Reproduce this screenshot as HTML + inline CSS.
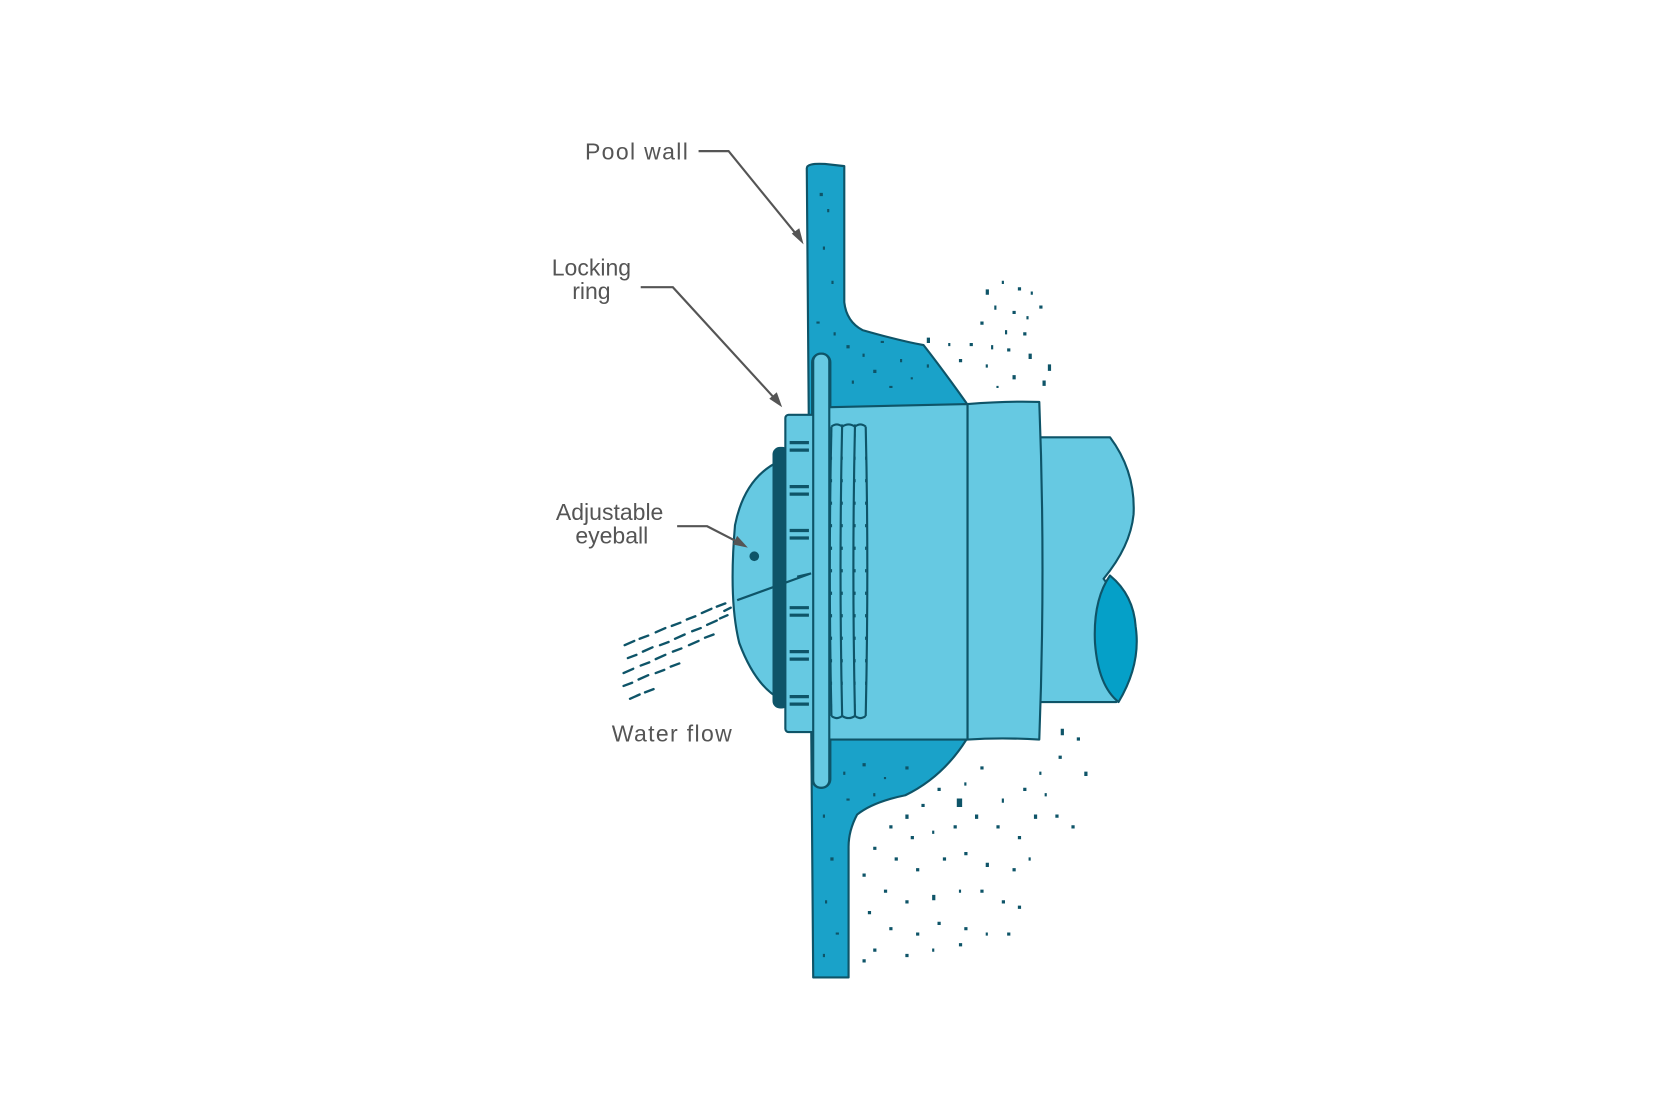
<!DOCTYPE html>
<html><head><meta charset="utf-8"><style>html,body{margin:0;padding:0;background:#fff;width:1680px;height:1120px;overflow:hidden}</style></head>
<body>
<svg width="1680" height="1120" viewBox="0 0 1568 1045" preserveAspectRatio="none" xmlns="http://www.w3.org/2000/svg">
<rect width="1568" height="1045" fill="#fff"/>
<g stroke="#0e5468" stroke-width="2" stroke-linejoin="round">
<path d="M753,157 Q753,152 770,153 L788,155 L788,282 Q790,300 805,308 Q840,318 862,322 Q880,345 902,376 L902,690 Q880,725 845,742 Q815,748 800,760 Q792,775 792,790 L792,912 L759,912 Z" fill="#1aa2c9"/>
<rect x="758" y="330" width="17" height="405" rx="8" fill="#66c9e2"/>
<path d="M970,408 L1036,408 Q1060,440 1058,480 Q1055,510 1030,540 Q1062,580 1042,655 L970,655 Z" fill="#66c9e2"/>
<path d="M1036,537 Q1020,560 1022,600 Q1025,640 1044,655 Q1065,620 1060,585 Q1058,555 1036,537 Z" fill="#05a0c8"/>
<path d="M903,377 Q940,374 970,375 Q976,530 970,690 Q935,688 903,690 Z" fill="#66c9e2"/>
<path d="M770,380 L903,377 L903,690 L770,690 Z" fill="#66c9e2"/>
<path d="M776,398 Q773,530 776,668 M786,396 Q783,530 786,668 M798,396 Q795,530 798,668 M808,398 Q811,530 808,668" fill="none"/>
<path d="M776,398 Q781,394 786,398 Q792,394 798,398 Q803,394 808,398 M776,668 Q781,672 786,668 Q792,672 798,668 Q803,672 808,668" fill="none"/>
<path d="M728,430 Q695,445 686,490 Q680,560 690,600 Q705,640 728,652 Z" fill="#66c9e2"/>
<rect x="722" y="418" width="14" height="242" rx="6" fill="#0e5468"/>
<rect x="733" y="387" width="30" height="296" rx="3" fill="#66c9e2"/>
<rect x="759" y="330" width="15" height="405" rx="7" fill="#66c9e2"/>
</g>
<g stroke="#0e5468" stroke-width="3">
<path d="M737,413h18M737,420h18M737,454h18M737,461h18M737,495h18M737,502h18M737,567h18M737,574h18M737,608h18M737,615h18M737,650h18M737,657h18"/>
</g>
<path d="M776,405v260M786,405v260M798,405v260M808,405v260" stroke="#0e5468" stroke-width="1.2" stroke-dasharray="3 18"/>
<path d="M688,560 L757,535 L744,538" stroke="#0e5468" stroke-width="2" fill="none"/>
<circle cx="704" cy="519" r="4.5" fill="#0e5468"/>
<g stroke="#0e5468" stroke-width="2.2" stroke-linecap="round">
<path d="M583,602l9,-4M597,596l8,-3M612,590l9,-4M627,584l8,-3M641,578l8,-3M655,572l9,-4M669,566l8,-3M586,614l8,-3M600,608l9,-4M616,602l8,-3M630,596l9,-4M646,589l8,-3M660,583l9,-4M672,577l7,-3M582,628l9,-4M598,621l8,-3M612,615l9,-4M628,608l8,-3M643,602l9,-4M658,595l8,-3M582,640l8,-3M596,634l9,-4M612,628l8,-3M626,622l8,-3M588,652l9,-4M602,646l8,-3M676,570l6,-3"/>
</g>
<g fill="#0e5468">
<path d="M765,180h3v3h-3zM772,195h2v3h-2zM768,230h2v3h-2zM776,262h2v3h-2zM762,300h3v2h-3zM778,310h2v3h-2zM790,322h3v3h-3zM805,330h2v3h-2zM822,318h3v2h-3zM840,335h2v3h-2zM815,345h3v3h-3zM850,352h2v2h-2zM795,355h2v3h-2zM830,360h3v2h-3zM865,340h2v3h-2zM787,720h2v3h-2zM805,712h3v3h-3zM825,725h2v2h-2zM845,715h3v3h-3zM815,740h2v3h-2zM790,745h3v2h-3zM768,760h2v3h-2zM775,800h3v3h-3zM770,840h2v3h-2zM780,870h3v2h-3zM768,890h2v3h-2z"/>
<path d="M920,270h3v5h-3zM935,262h2v3h-2zM950,268h3v3h-3zM962,272h2v3h-2zM928,285h2v4h-2zM945,290h3v3h-3zM958,295h2v3h-2zM970,285h3v3h-3zM915,300h3v3h-3zM938,308h2v4h-2zM955,310h3v3h-3zM905,320h3v3h-3zM925,322h2v4h-2zM940,325h3v3h-3zM960,330h3v5h-3zM978,340h3v6h-3zM865,315h3v5h-3zM885,320h2v3h-2zM895,335h3v3h-3zM920,340h2v3h-2zM945,350h3v4h-3zM973,355h3v5h-3zM930,360h2v2h-2z"/>
<path d="M990,680h3v6h-3zM1005,688h3v3h-3zM1012,720h3v4h-3zM988,705h3v3h-3zM970,720h2v3h-2zM955,735h3v3h-3zM935,745h2v4h-2zM915,715h3v3h-3zM900,730h2v3h-2zM893,745h5v8h-5zM875,735h3v3h-3zM860,750h3v3h-3zM845,760h3v4h-3zM830,770h3v3h-3zM850,780h3v3h-3zM870,775h2v3h-2zM890,770h3v3h-3zM910,760h3v4h-3zM930,770h3v3h-3zM950,780h3v3h-3zM965,760h3v4h-3zM985,760h3v3h-3zM1000,770h3v3h-3zM975,740h2v3h-2zM815,790h3v3h-3zM835,800h3v3h-3zM855,810h3v3h-3zM880,800h3v3h-3zM900,795h3v3h-3zM920,805h3v4h-3zM945,810h3v3h-3zM960,800h2v3h-2zM805,815h3v3h-3zM825,830h3v3h-3zM845,840h3v3h-3zM870,835h3v5h-3zM895,830h2v3h-2zM915,830h3v3h-3zM935,840h3v3h-3zM950,845h3v3h-3zM810,850h3v3h-3zM830,865h3v3h-3zM855,870h3v3h-3zM875,860h3v3h-3zM900,865h3v3h-3zM920,870h2v3h-2zM940,870h3v3h-3zM815,885h3v3h-3zM845,890h3v3h-3zM870,885h2v3h-2zM895,880h3v3h-3zM805,895h3v3h-3z"/>
</g>
<g stroke="#555" stroke-width="2" fill="none">
<path d="M652,141 L680,141 L746,222"/>
<path d="M598,268 L628,268 L726,375"/>
<path d="M632,491 L660,491 L693,508"/>
</g>
<g fill="#555">
<path d="M750,228 L739,218 L746,213 Z"/>
<path d="M730,380 L718,372 L725,366 Z"/>
<path d="M698,511 L684,508 L688,500 Z"/>
</g>
<g font-family="Liberation Sans, sans-serif" font-size="21.5" fill="#555">
<text x="546" y="149" textLength="96">Pool wall</text>
<text x="552" y="257" text-anchor="middle">Locking</text>
<text x="552" y="279" text-anchor="middle">ring</text>
<text x="569" y="485" text-anchor="middle">Adjustable</text>
<text x="571" y="507" text-anchor="middle">eyeball</text>
<text x="571" y="692" textLength="112">Water flow</text>
</g>
</svg>
</body></html>
